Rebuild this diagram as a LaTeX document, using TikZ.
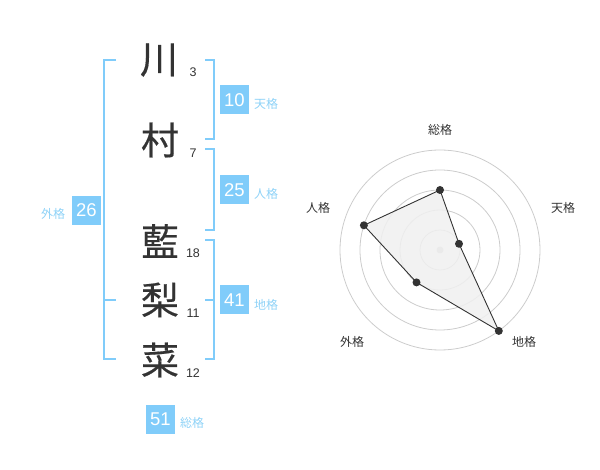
\documentclass[tikz,border=0pt]{standalone}
\usepackage{fontspec}
\setmainfont{Liberation Sans}
\newfontfamily\cjk{Noto Sans CJK JP}
\newfontfamily\cjkbig[FakeBold=0.4]{Noto Sans CJK JP}
\definecolor{bblue}{HTML}{80CCFA}
\definecolor{lblue}{HTML}{8ED2F7}
\definecolor{ink}{HTML}{333333}
\definecolor{ring}{HTML}{CCCCCC}
\definecolor{area}{HTML}{F0F0F0}
\tikzset{
  kanji/.style={inner sep=0pt, text=ink, font=\cjkbig\fontsize{38}{38}\selectfont},
  strokes/.style={inner sep=0pt, text=ink, font=\fontsize{12.5}{12.5}\selectfont},
  numbox/.style={fill=bblue, minimum width=29pt, minimum height=29pt, inner sep=0pt, text=white, font=\fontsize{18.5}{18.5}\selectfont},
  kaku/.style={inner sep=0pt, text=lblue, font=\cjk\fontsize{12}{12}\selectfont},
  bracket/.style={draw=bblue, line width=2pt},
  radlabel/.style={inner sep=0pt, text=ink, font=\cjk\fontsize{12}{12}\selectfont},
  ringline/.style={draw=ring, line width=0.8pt},
  dot/.style={circle, fill=ink, inner sep=0pt, minimum size=8pt},
}
\begin{document}
\begin{tikzpicture}[x=1pt, y=-1pt]
\useasboundingbox (0,0) rectangle (600,470);
% kanji
\node[kanji] (k1) at (159,60) {川};
\node[kanji] (k2) at (160,140) {村};
\node[kanji] (k3) at (160,241) {藍};
\node[kanji] (k4) at (160,300) {梨};
\node[kanji] (k5) at (160,360) {菜};
\node[strokes] (s1) at (193,72) {3};
\node[strokes] (s2) at (193,153) {7};
\node[strokes] (s3) at (193,253) {18};
\node[strokes] (s4) at (193,313) {11};
\node[strokes] (s5) at (193,373) {12};
% brackets
\draw[bracket] (116,60) -- (104,60) -- (104,359) -- (116,359);
\draw[bracket] (104,300) -- (116,300);
\draw[bracket] (205,60) -- (214,60) -- (214,139) -- (205,139);
\draw[bracket] (205,149) -- (214,149) -- (214,230) -- (205,230);
\draw[bracket] (205,240) -- (214,240) -- (214,359) -- (205,359);
\draw[bracket] (205,300) -- (214,300);
% boxes
\node[numbox] (b1) at (234.5,100) {10};
\node[kaku] (l1) at (266,104) {天格};
\node[numbox] (b2) at (234.5,190) {25};
\node[kaku] (l2) at (266,194) {人格};
\node[numbox] (b3) at (234.5,300) {41};
\node[kaku] (l3) at (266,305) {地格};
\node[numbox] (b4) at (86.5,210.5) {26};
\node[kaku] (l4) at (53,214) {外格};
\node[numbox] (b5) at (160.5,419.5) {51};
\node[kaku] (l5) at (192,423) {総格};
% radar
\coordinate (c) at (440,250);
\foreach \r in {20,40,60,80,100} \draw[ringline] (c) circle[radius=\r];
\fill[ring] (c) circle[radius=3.5];
\coordinate (pS) at (440,190);
\coordinate (pT) at (459.0,243.8);
\coordinate (pC) at (498.8,330.9);
\coordinate (pG) at (416.5,282.4);
\coordinate (pJ) at (363.9,225.3);
\draw[ink, fill=area, fill opacity=0.85, line width=0.9pt] (pS) -- (pT) -- (pC) -- (pG) -- (pJ) -- cycle;
\foreach \p in {pS,pT,pC,pG,pJ} \node[dot] at (\p) {};
\node[radlabel] (rS) at (440,130) {総格};
\node[radlabel] (rT) at (563,208) {天格};
\node[radlabel] (rJ) at (318,208) {人格};
\node[radlabel] (rG) at (352,342) {外格};
\node[radlabel] (rC) at (524,342) {地格};
\end{tikzpicture}
\end{document}
